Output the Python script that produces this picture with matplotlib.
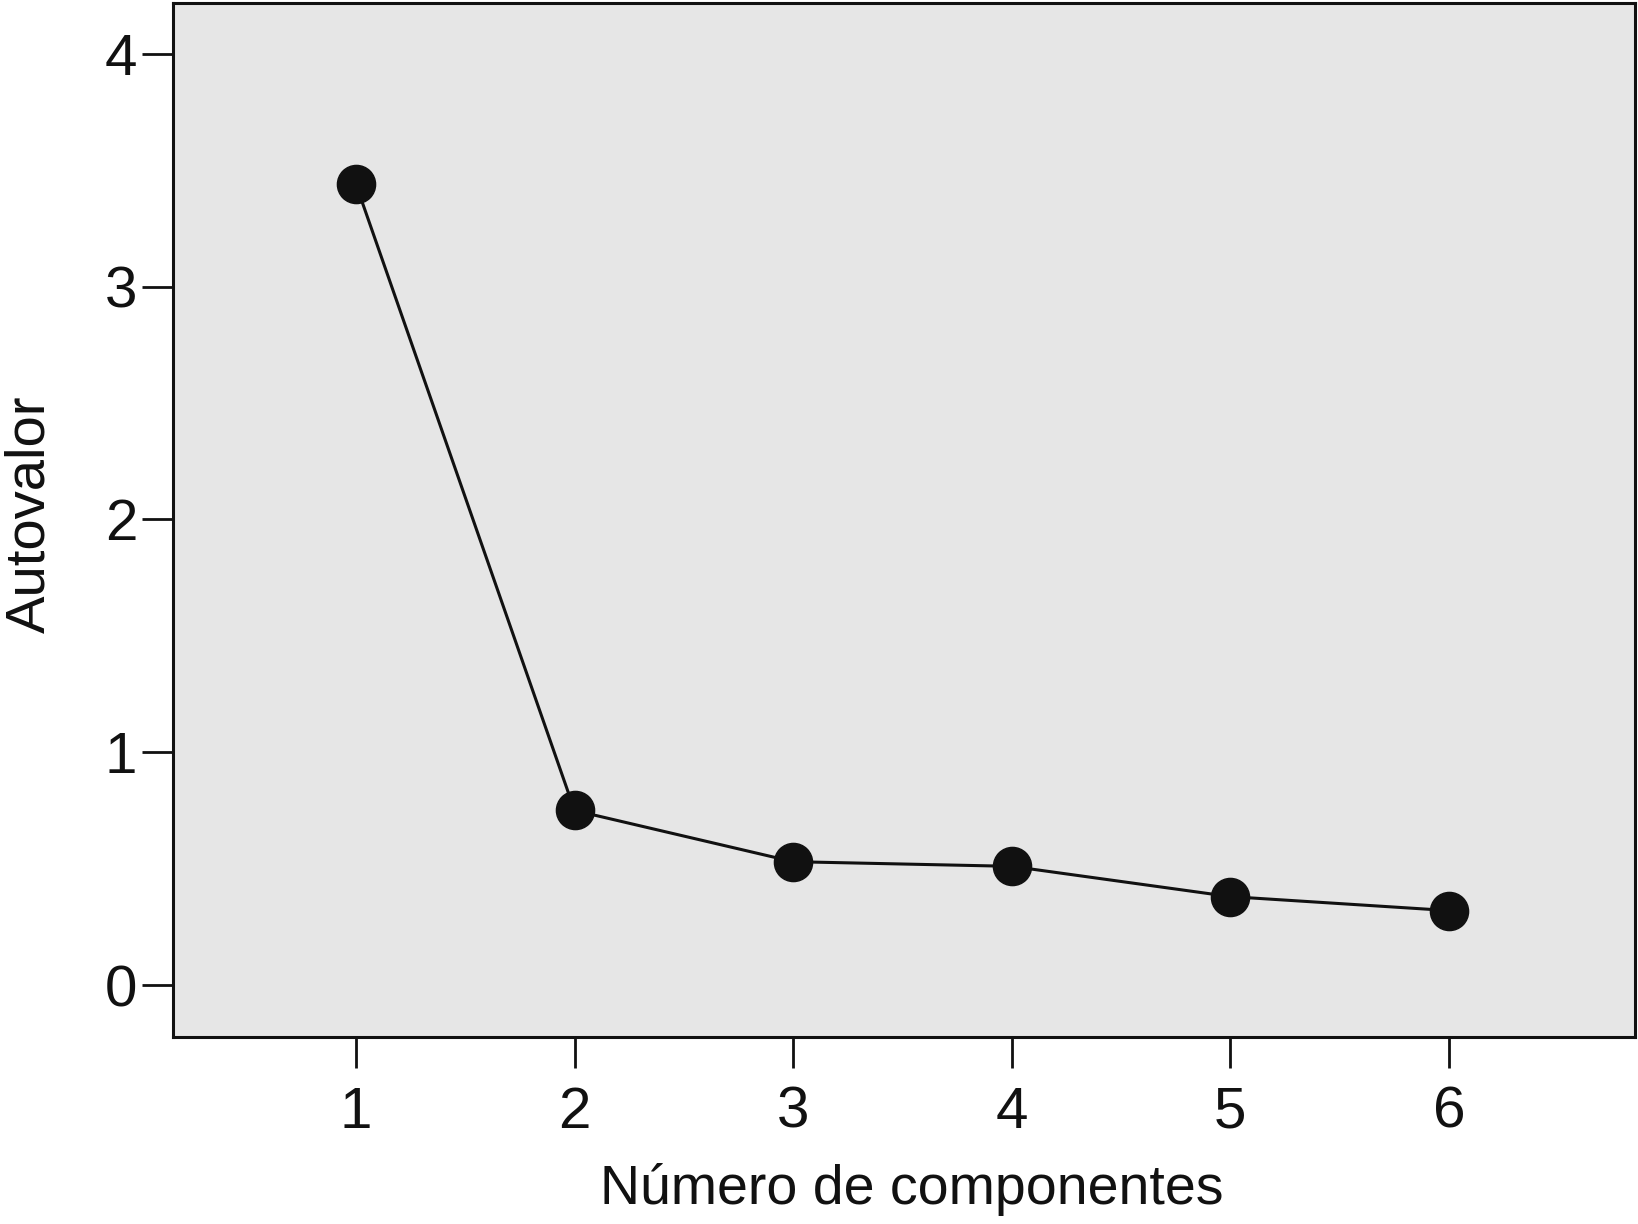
import matplotlib
matplotlib.use("Agg")
import matplotlib.pyplot as plt

components = [1, 2, 3, 4, 5, 6]
eigenvalues = [3.44, 0.75, 0.53, 0.51, 0.38, 0.32]
xticks = [1, 2, 3, 4, 5, 6]
yticks = [0, 1, 2, 3, 4]

plt.rcParams['font.family'] = ['Liberation Sans', 'DejaVu Sans']

fig = plt.figure(figsize=(16.38, 12.24), dpi=100)
ax = fig.add_axes([0.1059, 0.1528, 0.8921, 0.845])
ax.set_facecolor('#e6e6e6')

ax.plot(components, eigenvalues, color='#111111', linewidth=2.2,
        marker='o', markersize=27.5, markerfacecolor='#111111',
        markeredgecolor='#111111')

ax.set_xlim(0.165, 6.85)
ax.set_ylim(-0.223, 4.22)
ax.set_xticks(xticks)
ax.set_yticks(yticks)
ax.tick_params(axis='both', direction='out', length=22, width=2.0,
               colors='#111111', labelsize=42)
ax.tick_params(axis='y', pad=4)
ax.tick_params(axis='x', pad=13)
for s in ax.spines.values():
    s.set_linewidth(2.2)
    s.set_color('#111111')

ax.set_xlabel('Número de componentes', fontsize=40, color='#111111', labelpad=17)
ax.xaxis.label.set_x(0.505)
ax.set_ylabel('Autovalor', fontsize=40.5, color='#111111', va='center')
ax.yaxis.set_label_coords(-0.098, 0.505)

fig.savefig('out.png', dpi=100)
